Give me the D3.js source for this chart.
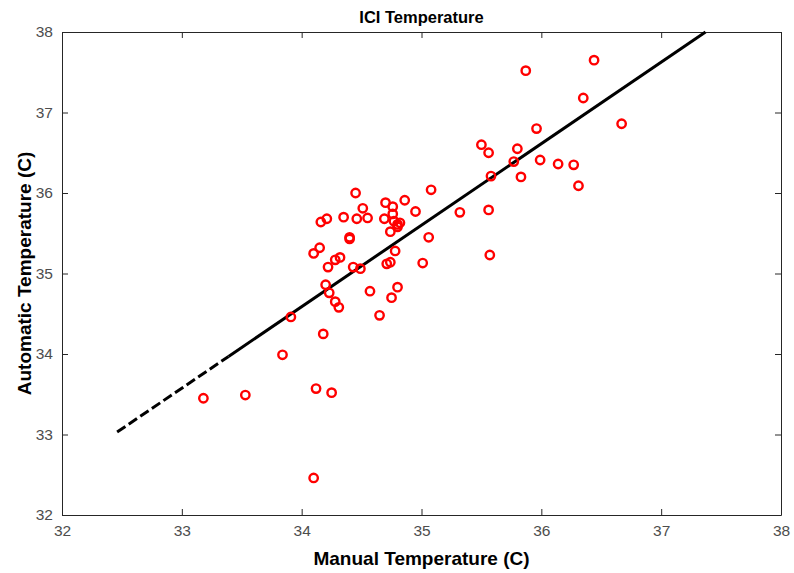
<!DOCTYPE html>
<html>
<head>
<meta charset="utf-8">
<script src="https://cdn.jsdelivr.net/npm/d3@7"></script>
<style>
  html, body { margin: 0; padding: 0; background: #fff; }
  svg { display: block; }
  text { font-family: "Liberation Sans", Arial, sans-serif; }
</style>
</head>
<body>
<script>
// Manual vs automatic (ICI) temperature readings, degrees C
const manualTemp = [
  33.18, 33.53, 33.84, 33.91, 34.12, 34.25, 34.10, 34.18, 34.10, 34.15,
  34.16, 34.21, 34.22, 34.20, 34.23, 34.28, 34.31, 34.28, 34.32, 34.35,
  34.40, 34.40, 34.45, 34.46, 34.43, 34.49, 34.51, 34.55, 34.57, 34.65,
  34.70, 34.69, 34.71, 34.74, 34.74, 34.75, 34.76, 34.76, 34.77, 34.78,
  34.80, 34.80, 34.80, 34.82, 34.86, 34.95, 35.01, 35.06, 35.08, 35.32,
  35.50, 35.56, 35.56, 35.58, 35.57, 35.77, 35.80, 35.83, 35.87, 35.96,
  35.99, 36.14, 36.27, 36.31, 36.35, 36.44, 36.67
];
const autoTemp = [
  33.45, 33.49, 33.99, 34.46, 33.57, 33.52, 32.46, 34.25, 35.25, 35.32,
  35.64, 35.68, 35.08, 34.86, 34.76, 34.65, 34.58, 35.17, 35.20, 35.70,
  35.43, 35.45, 36.00, 35.68, 35.08, 35.06, 35.81, 35.69, 34.78, 34.48,
  35.88, 35.68, 35.12, 35.14, 35.52, 34.70, 35.83, 35.74, 35.65, 35.28,
  34.83, 35.61, 35.58, 35.63, 35.91, 35.77, 35.13, 35.45, 36.04, 35.76,
  36.60, 36.50, 35.79, 36.21, 35.23, 36.39, 36.55, 36.20, 37.52, 36.80,
  36.41, 36.36, 36.35, 36.09, 37.18, 37.65, 36.86
];

// Fitted line: dashed stretch, then solid stretch (x, y endpoints)
const fitDashed = [[32.46, 33.03], [33.39, 33.97]];
const fitSolid  = [[33.39, 33.97], [37.37, 38.00]];

const xTicks = [32, 33, 34, 35, 36, 37, 38];
const yTicks = [32, 33, 34, 35, 36, 37, 38];

const titleText = "ICI Temperature";
const xLabel = "Manual Temperature (C)";
const yLabel = "Automatic Temperature (C)";

const W = 794, H = 573;
const m = { left: 62, right: 13, top: 32, bottom: 58 };

const svg = d3.select("body").append("svg").attr("width", W).attr("height", H);

const x = d3.scaleLinear().domain([32, 38]).range([m.left, W - m.right]);
const y = d3.scaleLinear().domain([32, 38]).range([H - m.bottom, m.top]);

const axisColor = "#262626";
const labelColor = "#4d4d4d";
const tickLen = 6;

// Box with inward ticks on every side
const axisStyle = g => {
  g.select(".domain").attr("stroke", axisColor).attr("stroke-width", 1);
  g.selectAll(".tick line").attr("stroke", axisColor);
  g.selectAll(".tick text").attr("fill", labelColor).style("font-size", "15.5px");
};

svg.append("g").attr("transform", `translate(0,${y(32)})`)
  .call(d3.axisBottom(x).tickValues(xTicks).tickFormat(d3.format("d"))
    .tickSizeInner(-tickLen).tickSizeOuter(0).tickPadding(10))
  .call(axisStyle);
svg.append("g").attr("transform", `translate(0,${y(38)})`)
  .call(d3.axisTop(x).tickValues(xTicks).tickFormat("")
    .tickSizeInner(-tickLen).tickSizeOuter(0))
  .call(axisStyle);
svg.append("g").attr("transform", `translate(${x(32)},0)`)
  .call(d3.axisLeft(y).tickValues(yTicks).tickFormat(d3.format("d"))
    .tickSizeInner(-tickLen).tickSizeOuter(0).tickPadding(9))
  .call(axisStyle);
svg.append("g").attr("transform", `translate(${x(38)},0)`)
  .call(d3.axisRight(y).tickValues(yTicks).tickFormat("")
    .tickSizeInner(-tickLen).tickSizeOuter(0))
  .call(axisStyle);

// Regression line
const line = d3.line().x(d => x(d[0])).y(d => y(d[1]));
svg.append("path").datum(fitDashed).attr("d", line)
  .attr("fill", "none").attr("stroke", "#000").attr("stroke-width", 3)
  .attr("stroke-dasharray", "10,4");
svg.append("path").datum(fitSolid).attr("d", line)
  .attr("fill", "none").attr("stroke", "#000").attr("stroke-width", 3);

// Scatter points
svg.append("g").selectAll("circle")
  .data(manualTemp.map((v, i) => [v, autoTemp[i]]))
  .join("circle")
  .attr("cx", d => x(d[0])).attr("cy", d => y(d[1]))
  .attr("r", 4.2)
  .attr("fill", "none").attr("stroke", "#ff0000").attr("stroke-width", 2.4);

// Title and axis labels
svg.append("text").attr("x", (x(32) + x(38)) / 2).attr("y", 23)
  .attr("text-anchor", "middle").style("font-size", "16.5px").style("font-weight", "bold")
  .attr("fill", "#000").text(titleText);
svg.append("text").attr("x", (x(32) + x(38)) / 2).attr("y", 565)
  .attr("text-anchor", "middle").style("font-size", "19px").style("font-weight", "bold")
  .attr("fill", "#000").text(xLabel);
svg.append("text")
  .attr("transform", `translate(31,${(y(32) + y(38)) / 2}) rotate(-90)`)
  .attr("text-anchor", "middle").style("font-size", "19px").style("font-weight", "bold")
  .attr("fill", "#000").text(yLabel);
</script>
</body>
</html>
